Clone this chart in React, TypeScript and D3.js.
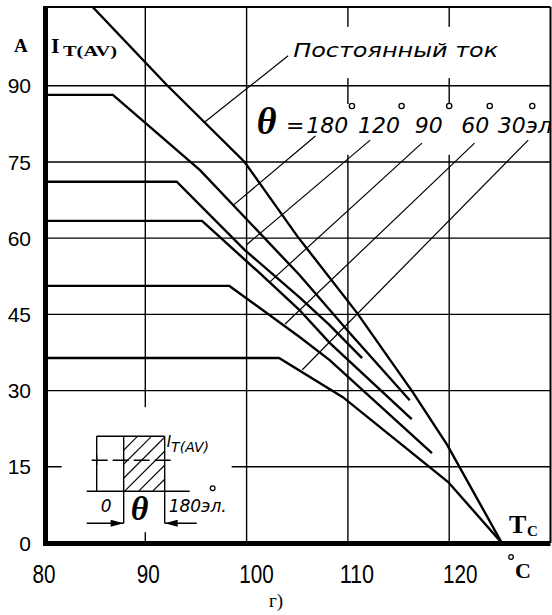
import * as d3 from 'd3'

// case temperature, °C  /  average on-state current, A
const tempTicks = [80, 90, 100, 110, 120]
const currentTicks = [0, 15, 30, 45, 60, 75, 90]
const tempLabelShift = [0, 3, 10, 9, 11]

const dcT = [84.8, 92.1, 99.8, 105.0, 110.9, 116.4, 119.8, 125.2]
const dcI = [105.5, 90.2, 75.0, 60.4, 45.3, 29.7, 19.3, 0]
const a180T = [80, 86.8, 95.4, 105.2, 110.2, 116.1]
const a180I = [88.2, 88.2, 73.4, 52.8, 41.3, 28.1]
const a120T = [80, 93.1, 99.8, 105.2, 108.2, 111.4]
const a120I = [71.1, 71.1, 57.7, 48.4, 42.9, 36.4]
const a90T = [80, 95.6, 101.3, 105.2, 108.2, 116.3]
const a90I = [63.4, 63.4, 53.1, 45.9, 39.4, 24.4]
const a60T = [80, 98.3, 105.2, 108.2, 118.3]
const a60I = [50.6, 50.6, 40.6, 36.0, 17.7]
const a30T = [80, 103.2, 109.5, 119.9, 125.2]
const a30I = [36.4, 36.4, 28.7, 12.0, 0]

const seriesT = [dcT, a180T, a120T, a90T, a60T, a30T]
const seriesI = [dcI, a180I, a120I, a90I, a60I, a30I]

// leader lines: from curve to its label
const leaderFromT = [95.9, 98.7, 100.0, 102.3, 103.8, 105.5]
const leaderFromI = [82.9, 66.5, 58.7, 51.4, 43.1, 34.1]
const leaderToT = [104.1, 106.8, 112.2, 117.3, 122.5, 127.8]
const leaderToI = [95.9, 80.1, 79.3, 78.7, 78.7, 79.3]

const angleLabels = ['180', '120', '90', '60', '30эл']
const angleLabelT = [105.9, 111.0, 116.6, 121.2, 124.8]
const degreeT = [110.4, 115.3, 120.0, 124.0, 128.2]

const W = 552
const H = 615

export default function App() {
  const x = d3.scaleLinear().domain([80, 130]).range([44, 550.5])
  const y = d3.scaleLinear().domain([0, 105.5]).range([543, 7])
  const line = d3.line<number>()
  const x0 = x(80), x1 = x(130), y0 = y(0), y1 = y(105.5)

  const sans = 'Liberation Sans, Arial, sans-serif'
  const serif = 'Liberation Serif, Times New Roman, serif'
  const gost = 'DejaVu Sans, sans-serif'

  // inset (pulse sketch) origin
  const ix = x(85.2)
  const iy = y(10.2)

  return (
    <svg width={W} height={H} style={{ position: 'absolute', left: 0, top: 0, background: '#fff' }}>
      <defs>
        <clipPath id="frame">
          <rect x={x0} y={y1} width={x1 - x0} height={y0 - y1} />
        </clipPath>
        <clipPath id="hatch">
          <rect x={27} y={-55} width={41} height={55} />
        </clipPath>
      </defs>
      <rect width={W} height={H} fill="#fff" />

      {/* grid */}
      <g stroke="#000" strokeWidth={1.4}>
        {tempTicks.slice(1).map(t => (
          <line key={t} x1={x(t)} x2={x(t)} y1={y1} y2={y0} />
        ))}
        {currentTicks.slice(1).map(v => (
          <line key={v} x1={x0} x2={x1} y1={y(v)} y2={y(v)} />
        ))}
      </g>

      {/* blank areas behind annotations */}
      <g fill="#fff">
        <rect x={x(104.2)} y={y(101.6)} width={x(129.9) - x(104.2)} height={y(91.5) - y(101.6)} />
        <rect x={x(100.6)} y={y(86.4)} width={x(129.9) - x(100.6)} height={y(76.4) - y(86.4)} />
        <rect x={ix - 35} y={iy - 84} width={170} height={125} />
      </g>

      {/* frame & axes */}
      <line x1={x0} x2={x1} y1={y1} y2={y1} stroke="#000" strokeWidth={2} />
      <line x1={x1} x2={x1} y1={y1} y2={y0} stroke="#000" strokeWidth={2} />
      <line x1={x0 + 1.5} x2={x0 + 1.5} y1={y1 - 1} y2={y0 + 3} stroke="#000" strokeWidth={5} />
      <line x1={x0 - 1} x2={x1} y1={y0 + 0.5} y2={y0 + 0.5} stroke="#000" strokeWidth={5} />

      {/* curves */}
      <g fill="none" stroke="#000" strokeWidth={2.4} strokeLinejoin="miter" clipPath="url(#frame)">
        {seriesT.map((ts, k) => (
          <path key={k} d={line.x(i => x(ts[i])).y(i => y(seriesI[k][i]))(d3.range(ts.length)) ?? ''} />
        ))}
      </g>

      {/* leaders */}
      <g stroke="#000" strokeWidth={1.2}>
        {leaderFromT.map((t, k) => (
          <line key={k} x1={x(t)} y1={y(leaderFromI[k])} x2={x(leaderToT[k])} y2={y(leaderToI[k])} />
        ))}
      </g>

      {/* labels in the plot */}
      <text x={x(104.6)} y={y(95.7)} fontFamily={gost} fontStyle="italic" fontSize={20}
        textLength={205} lengthAdjust="spacingAndGlyphs">Постоянный  ток</text>
      <text x={x(101.0)} y={y(80.5)} fontFamily={serif} fontStyle="italic" fontWeight="bold" fontSize={38}>θ</text>
      <g clipPath="url(#frame)" fontFamily={gost} fontStyle="italic" fontSize={22}>
        <text x={x(103.9)} y={y(80.7)}>=</text>
        {angleLabels.map((s, k) => (
          <text key={s} x={x(angleLabelT[k])} y={y(80.7)}>{s}</text>
        ))}
        {degreeT.map(t => (
          <circle key={t} cx={x(t)} cy={y(86.0)} r={2.6} fill="#fff" stroke="#000" strokeWidth={1.3} />
        ))}
      </g>

      {/* inset: conduction angle sketch */}
      <g transform={`translate(${ix},${iy})`} stroke="#000" fill="none">
        <g clipPath="url(#hatch)" strokeWidth={1.1}>
          {d3.range(-2, 8).map(k => (
            <line key={k} x1={27 + k * 14 - 55} y1={0} x2={27 + k * 14} y2={-55} />
          ))}
        </g>
        <g strokeWidth={1.4}>
          <line x1={0} y1={0} x2={0} y2={-55} />
          <line x1={0} y1={-55} x2={68} y2={-55} />
          <line x1={27} y1={-55} x2={27} y2={32} />
          <line x1={68} y1={-55} x2={68} y2={32} />
          <line x1={-10} y1={0} x2={93} y2={0} />
          <line x1={-5} y1={-31} x2={76} y2={-31} strokeDasharray="16 5" />
          <line x1={0} y1={-36} x2={0} y2={-26} />
          <line x1={-10} y1={32} x2={27} y2={32} />
          <line x1={68} y1={32} x2={100} y2={32} />
        </g>
        <path d="M27,32 L14,28.5 L14,35.5 Z" fill="#000" stroke="none" />
        <path d="M68,32 L81,28.5 L81,35.5 Z" fill="#000" stroke="none" />
        <g stroke="none" fill="#000" fontFamily={gost} fontStyle="italic">
          <text x={70} y={-44} fontSize={15}>I<tspan dy={5} fontSize={14}>T(AV)</tspan></text>
          <text x={4} y={21} fontSize={17}>0</text>
          <text x={72} y={21} fontSize={17}>180эл.</text>
          <text x={34} y={29} fontFamily={serif} fontWeight="bold" fontSize={34}>θ</text>
        </g>
        <circle cx={116} cy={-3} r={2.4} strokeWidth={1.2} fill="#fff" />
      </g>

      {/* axis ticks */}
      <g fontFamily={sans} fontSize={21} textAnchor="end">
        {currentTicks.map(v => (
          <text key={v} x={31} y={y(v)} dy="0.36em">{v}</text>
        ))}
      </g>
      <g fontFamily={sans} fontSize={25} textAnchor="middle">
        {tempTicks.map((t, k) => (
          <text key={t} x={x(t) + tempLabelShift[k]} y={583}
            textLength={String(t).length * 11.5} lengthAdjust="spacingAndGlyphs">{t}</text>
        ))}
      </g>

      {/* axis titles */}
      <g fontFamily={serif} fontWeight="bold">
        <text x={14} y={52} fontSize={19}>A</text>
        <text x={51} y={53} fontSize={22}>I</text>
        <text x={63} y={56} fontSize={15} textLength={54} lengthAdjust="spacingAndGlyphs">T(AV)</text>
        <text x={509} y={533} fontSize={26}>T</text>
        <text x={527} y={536} fontSize={15}>C</text>
        <text x={515} y={578} fontSize={22}>C</text>
      </g>
      <circle cx={511} cy={557} r={2.3} fill="none" stroke="#000" strokeWidth={1.3} />
      <text x={276} y={607} fontFamily={serif} fontSize={19} textAnchor="middle">г)</text>
    </svg>
  )
}
